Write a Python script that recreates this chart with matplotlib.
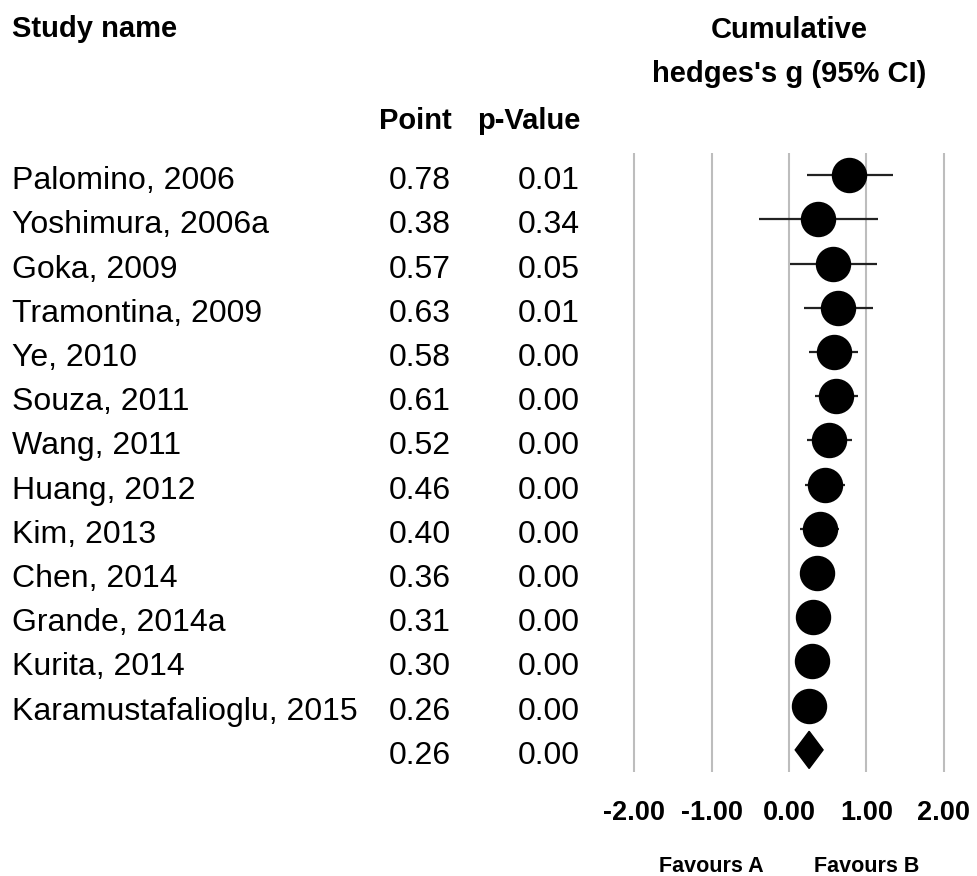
import matplotlib
matplotlib.use('Agg')
import matplotlib.pyplot as plt
import matplotlib.transforms as transforms
from matplotlib.patches import Polygon

plt.rcParams['font.family'] = ['Liberation Sans', 'DejaVu Sans']

studies = ['Palomino, 2006', 'Yoshimura, 2006a', 'Goka, 2009', 'Tramontina, 2009',
           'Ye, 2010', 'Souza, 2011', 'Wang, 2011', 'Huang, 2012', 'Kim, 2013',
           'Chen, 2014', 'Grande, 2014a', 'Kurita, 2014', 'Karamustafalioglu, 2015']
point = [0.78, 0.38, 0.57, 0.63, 0.58, 0.61, 0.52, 0.46, 0.40, 0.36, 0.31, 0.30, 0.26]
pval = [0.01, 0.34, 0.05, 0.01, 0.00, 0.00, 0.00, 0.00, 0.00, 0.00, 0.00, 0.00, 0.00]
lower = [0.23, -0.39, 0.01, 0.19, 0.26, 0.34, 0.23, 0.21, 0.14, 0.15, 0.11, 0.11, 0.08]
upper = [1.34, 1.15, 1.13, 1.08, 0.89, 0.89, 0.81, 0.72, 0.65, 0.57, 0.51, 0.49, 0.44]

# overall (summary) row
sum_point = 0.26
sum_p = 0.00
sum_lower = 0.08
sum_upper = 0.44

ticks = [-2, -1, 0, 1, 2]
tick_labels = ['-2.00', '-1.00', '0.00', '1.00', '2.00']

W, H = 978, 876
TOP, BOT = 153, 772          # pixel extent of the plot area
fig = plt.figure(figsize=(W / 100, H / 100), dpi=100)
ax = fig.add_axes([600 / W, 1 - BOT / H, 378 / W, (BOT - TOP) / H])
ax.set_xlim(-2.44, 2.44)
ax.set_ylim(13.5, -0.5)

for s in ax.spines.values():
    s.set_visible(False)
ax.set_yticks([])
ax.set_xticks(ticks)
ax.set_xticklabels(tick_labels, fontsize=19.5, fontweight='bold')
ax.tick_params(axis='x', length=0, pad=20)
ax.grid(axis='x', color='#bdbdbd', linewidth=1.5)
ax.set_axisbelow(True)

n = len(studies)
rows = list(range(n))

# CI lines and point markers
ax.hlines(rows, lower, upper, color='#222222', linewidth=1.6, zorder=2)
ax.plot(point, rows, 'o', color='black', markersize=24.5, zorder=3)

# summary diamond
h = 0.42
ax.add_patch(Polygon([(sum_lower, n), (sum_point, n - h), (sum_upper, n), (sum_point, n + h)],
                     closed=True, color='black', zorder=3))

# text columns
trans = transforms.blended_transform_factory(fig.transFigure, ax.transData)
fs = 23
off = 0.317
for i in rows:
    ax.text(12 / W, i + off, studies[i], transform=trans, fontsize=fs, va='baseline', ha='left')
    ax.text(451 / W, i + off, '%.2f' % point[i], transform=trans, fontsize=fs, va='baseline', ha='right')
    ax.text(580 / W, i + off, '%.2f' % pval[i], transform=trans, fontsize=fs, va='baseline', ha='right')
ax.text(451 / W, n + off, '%.2f' % sum_point, transform=trans, fontsize=fs, va='baseline', ha='right')
ax.text(580 / W, n + off, '%.2f' % sum_p, transform=trans, fontsize=fs, va='baseline', ha='right')

# headers
hfs = 21
fig.text(12 / W, 1 - 37 / H, 'Study name', fontsize=hfs, fontweight='bold', va='baseline', ha='left')
fig.text(452 / W, 1 - 129 / H, 'Point', fontsize=hfs, fontweight='bold', va='baseline', ha='right')
fig.text(580 / W, 1 - 129 / H, 'p-Value', fontsize=hfs, fontweight='bold', va='baseline', ha='right')
htrans = transforms.blended_transform_factory(ax.transData, fig.transFigure)
ax.text(0, 1 - 38 / H, 'Cumulative', transform=htrans,
        fontsize=hfs, fontweight='bold', ha='center', va='baseline')
ax.text(0, 1 - 82 / H, "hedges's g (95% CI)", transform=htrans,
        fontsize=hfs, fontweight='bold', ha='center', va='baseline')

# favours labels
ax.text(-1, 1 - 872 / H, 'Favours A', transform=htrans,
        fontsize=15.5, fontweight='bold', ha='center', va='baseline')
ax.text(1, 1 - 872 / H, 'Favours B', transform=htrans,
        fontsize=15.5, fontweight='bold', ha='center', va='baseline')

fig.savefig('out.png', dpi=100)
